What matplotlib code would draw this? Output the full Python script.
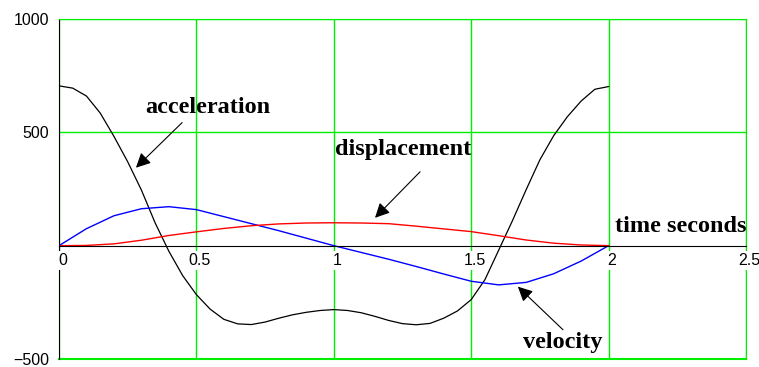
import matplotlib
import matplotlib.pyplot as plt
matplotlib.use('Agg')

# time axis (seconds)
t_fine = [0.00, 0.05, 0.10, 0.15, 0.20, 0.25, 0.30, 0.35, 0.40, 0.45,
          0.50, 0.55, 0.60, 0.65, 0.70, 0.75, 0.80, 0.85, 0.90, 0.95,
          1.00, 1.05, 1.10, 1.15, 1.20, 1.25, 1.30, 1.35, 1.40, 1.45,
          1.50, 1.55, 1.60, 1.65, 1.70, 1.75, 1.80, 1.85, 1.90, 1.95, 2.00]
t_coarse = [0.0, 0.1, 0.2, 0.3, 0.4, 0.5, 0.6, 0.7, 0.8, 0.9, 1.0,
            1.1, 1.2, 1.3, 1.4, 1.5, 1.6, 1.7, 1.8, 1.9, 2.0]

acceleration = [705, 695, 660, 585, 482, 370, 245, 100, -25, -132,
                -216, -280, -325, -345, -348, -337, -320, -305, -294, -286,
                -282, -286, -296, -312, -330, -344, -349, -343, -320, -288,
                -238, -150, -20, 110, 247, 379, 485, 569, 638, 690, 702]
velocity = [0, 75, 132, 163, 172, 159, 128, 97, 66, 33, 0,
            -30, -60, -92, -125, -157, -173, -162, -124, -68, 0]
displacement = [0, 1, 8, 24, 45, 61, 76, 88, 96, 100, 101,
                100, 97, 86, 74, 62, 44, 25, 11, 3, 0]

x_ticks = [0, 0.5, 1, 1.5, 2, 2.5]
x_labels = ['0', '0.5', '1', '1.5', '2', '2.5']
y_ticks = [-500, 500, 1000]
y_labels = ['\u2212500', '500', '1000']

GRID = '#00ee00'
LABEL_FONT = dict(family='Liberation Serif', weight='bold', size=17.5)


def annotate(ax, text, text_xy, tail_xy, tip_xy):
    """
    Bold label with a separate arrow pointing at a curve.
    """
    ax.text(*text_xy, text, ha='left', va='baseline', **LABEL_FONT)
    if tip_xy is not None:
        ax.annotate('', xy=tip_xy, xytext=tail_xy,
                    arrowprops=dict(arrowstyle='-|>', color='black', lw=0.8,
                                    mutation_scale=22, shrinkA=0, shrinkB=0))


fig = plt.figure(figsize=(7.59, 3.67), dpi=100)
ax = fig.add_axes([59 / 759, 1 - 359 / 367, 687 / 759, 340 / 367])

ax.plot(t_fine, acceleration, color='black', lw=0.9)
ax.plot(t_coarse, velocity, color='blue', lw=1.0)
ax.plot(t_coarse, displacement, color='red', lw=1.0)

ax.set_xlim(0, 2.5)
ax.set_ylim(-500, 1000)

# grid and frame
ax.set_xticks(x_ticks)
ax.set_xticklabels([])
ax.set_yticks(y_ticks)
ax.set_yticklabels(y_labels, family='Liberation Sans', size=11.5)
ax.tick_params(length=0)
ax.tick_params(axis='y', pad=7)
ax.grid(True, color=GRID, lw=1.0)
ax.spines['bottom'].set_position(('data', 0))
ax.spines['bottom'].set_color('black')
ax.spines['left'].set_color('black')
ax.spines['top'].set_color(GRID)
ax.spines['right'].set_color(GRID)
ax.axhline(-500, color=GRID, lw=1.5, clip_on=False)

# x labels sit just under the zero line
for x, lab in zip(x_ticks, x_labels):
    ax.annotate(lab, xy=(x, 0), xytext=(2.5, -5), textcoords='offset points',
                ha='center', va='top', family='Liberation Sans', size=11.5,
                bbox=dict(facecolor='white', edgecolor='none', pad=1.5))

annotate(ax, 'acceleration', (0.313, 587), (0.448, 543), (0.280, 344))
annotate(ax, 'displacement', (1.004, 401), (1.314, 326), (1.150, 123))
annotate(ax, 'time seconds', (2.023, 62), None, None)
annotate(ax, 'velocity', (1.688, -450), (1.834, -371), (1.670, -181))

fig.savefig('out.png', dpi=100)
